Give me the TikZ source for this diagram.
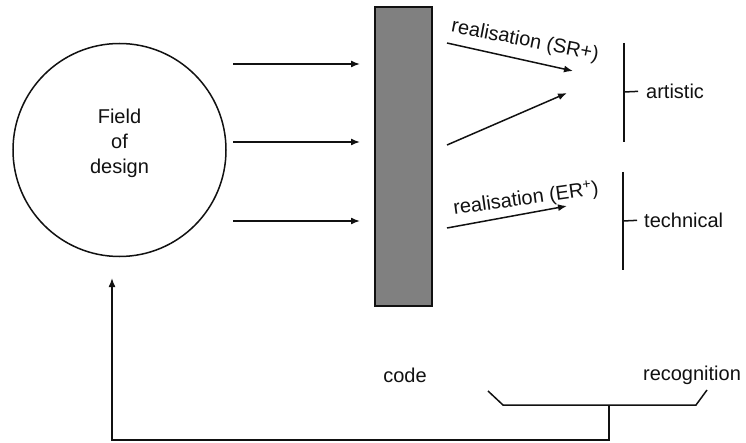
\documentclass[tikz,border=0pt]{standalone}
\usepackage{fontspec}
\setmainfont{Liberation Sans}
\usepackage{xcolor}
\usepackage{tikz}
\usetikzlibrary{arrows.meta,calc,positioning}
\definecolor{codefill}{HTML}{808080}
\definecolor{ink}{HTML}{111111}
\tikzset{
  fieldcircle/.style={
    circle,
    draw=ink,
    line width=1.5pt,
    minimum size=213pt,
    inner sep=0pt,
    outer sep=0pt
  },
  codebar/.style={
    rectangle,
    draw=ink,
    fill=codefill,
    line width=1.8pt,
    minimum width=57pt,
    minimum height=299pt,
    inner sep=0pt,
    outer sep=0pt
  },
  txt/.style={font=\fontsize{20}{25}\selectfont, text=ink, align=center, inner sep=0pt},
  flow/.style={line width=1.5pt, draw=ink, -{Latex[length=9pt,width=7pt]}},
  bar/.style={line width=1.5pt, draw=ink},
  bracket/.style={line width=1.5pt, draw=ink}
}

\begin{document}
\begin{tikzpicture}[x=1pt,y=1pt]
\path[use as bounding box] (0,0) rectangle (746,442);
\fill[white] (0,0) rectangle (746,442);

% field of design and code
\node[fieldcircle] (field) at (119.5,292) {};
\node[txt] (fieldtext) at (119.5,299) {Field\\of\\design};
\node[codebar] (code) at (403.5,285.5) {};
\node[txt] (codelabel) at (405,67) {code};
\node[txt] (recognition) at (692,67) {recognition};

\foreach \y in {378,300,221}
  \draw[flow, shorten <=7pt, shorten >=15pt] (field.east |- 0,\y) -- (code.west |- 0,\y);

% realisation arrows
\coordinate (sr1) at (447,399);
\coordinate (sr1end) at (573,371);
\coordinate (sr2) at (447,297);
\coordinate (sr2end) at (567,349);
\coordinate (er) at (447,214);
\coordinate (erend) at (567,236);
\draw[flow] (sr1) -- (sr1end);
\draw[flow] (sr2) -- (sr2end);
\draw[flow] (er) -- (erend);
\node[txt, rotate=-11] (srlabel) at (525,401) {realisation (SR+)};
\node[txt, rotate=8] (erlabel) at (526,243) {realisation (ER\textsuperscript{+})};

% recognition bars
\node[txt, anchor=west] (artistic) at (646,351) {artistic};
\node[txt, anchor=west] (technical) at (644,222) {technical};
\coordinate (bartop1) at (624,399);
\coordinate (barbot1) at (624,300);
\coordinate (bartop2) at (623,270);
\coordinate (barbot2) at (623,172);
\draw[bar] (bartop1) -- (barbot1);
\draw[bar] (bartop2) -- (barbot2);
\draw[bar, shorten >=8pt] (624,350) -- (artistic.west);
\draw[bar, shorten >=7pt] (623,221) -- (technical.west);

% bracket under the labels and feedback to the field
\coordinate (stem) at (609,37);
\coordinate (back) at (112,164);
\draw[bracket] (488,51) -- (503,37) -- (696,37) -- (707,52);
\draw[flow] (stem) -- ++(0,-35) -| (back);

\end{tikzpicture}
\end{document}
